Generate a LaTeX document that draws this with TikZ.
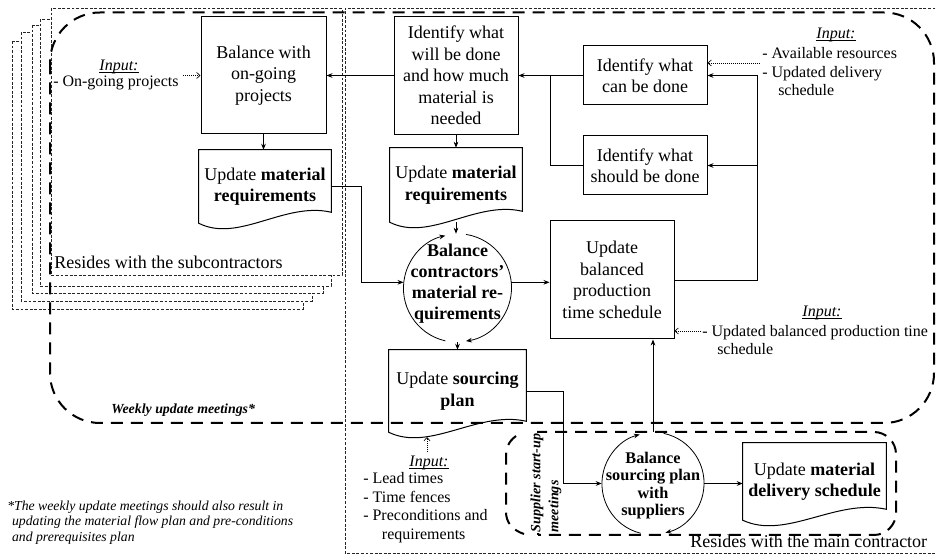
\documentclass[tikz,border=0pt]{standalone}
\usepackage{fontspec}
\setmainfont{Liberation Serif}
\usetikzlibrary{arrows.meta,calc}

% document symbol: flat top, wavy bottom edge
\newcommand{\docoutline}[1]{%
  \draw[docline] (#1.south west) -- (#1.north west) -- (#1.north east)
    -- ($(#1.south east)+(0,-11)$)
    .. controls ($(#1.south west)!0.65!(#1.south east)+(0,-22)$)
    and ($(#1.south west)!0.3!(#1.south east)+(0,20)$) .. (#1.south west) -- cycle;}
% italic label with a rule just under the baseline
\newcommand{\inlabel}[1]{\setbox0\hbox{\itshape #1}\rlap{\rule[-1.6pt]{\wd0}{0.45pt}}\box0}

\tikzset{
  mainfont/.style={font=\fontsize{13.5}{16.1}\selectfont},
  procbox/.style={draw, line width=0.75pt, fill=white, align=center, inner sep=0pt, mainfont},
  doctext/.style={align=center, inner sep=0pt, mainfont},
  docline/.style={line width=0.75pt},
  cyclenode/.style={circle, inner sep=0pt},
  cyclearc/.style={line width=0.6pt, -{Stealth[length=4.5pt,width=3.5pt]}},
  flow/.style={line width=0.6pt, -{Stealth[length=4.5pt,width=3.5pt]}},
  joinline/.style={line width=0.6pt},
  inputarrow/.style={line width=0.5pt, densely dotted, -{Straight Barb[length=2.5pt,width=4.5pt]}},
  inhead/.style={font=\fontsize{12}{13.5}\selectfont, inner sep=0pt},
  inlist/.style={font=\fontsize{12}{13.9}\selectfont, align=left, inner sep=0pt},
  pagesheet/.style={draw=black!85, fill=white, line width=0.5pt, dash pattern=on 2.2pt off 1.2pt},
  regionline/.style={draw=black!85, line width=0.5pt, dash pattern=on 2.2pt off 1.2pt},
  meetingline/.style={line width=1.5pt, dash pattern=on 9pt off 6pt},
}

\begin{document}
\begin{tikzpicture}[x=0.75pt,y=-0.75pt]
\useasboundingbox (0,0) rectangle (936,555);

% stack of subcontractor sheets, back to front
\draw[pagesheet] (12,41) rectangle (303,309);
\draw[pagesheet] (21,32) rectangle (312,301);
\draw[pagesheet] (32,25) rectangle (323,293);
\draw[pagesheet] (40,19) rectangle (331,286);
\draw[pagesheet] (51,8) rectangle (342,275);
% main contractor area
\draw[regionline] (940,8) -- (345,8) -- (345,553) -- (940,553);

% weekly update meetings boundary
\draw[meetingline, rounded corners=37.5pt] (50,12.5) rectangle (934,423);
\node[anchor=west, inner sep=0pt, font=\fontsize{10.4}{12}\selectfont\bfseries\itshape] (wum) at (111,410) {Weekly update meetings*};

% main contractor / supplier boundary
\draw[meetingline] (538,535) -- (538,432) -- (874,432)
  .. controls (886,432) and (896,442) .. (896,454) -- (896,513)
  .. controls (896,525) and (886,535) .. (874,535) -- cycle;
\draw[meetingline] (516,436) .. controls (508,442) and (506,448) .. (506,458) -- (506,512)
  .. controls (506,522) and (512,530) .. (524,534);
\node[rotate=90, fill=white, align=left, inner sep=0.5pt, font=\fontsize{10.6}{13.5}\selectfont\bfseries\itshape] (ssm) at (546,483) {Supplier start-up\\meetings};

% region labels
\node[anchor=west, inner sep=0pt, mainfont] (rsub) at (54,262) {Resides with the subcontractors};
\node[anchor=west, inner sep=0pt, mainfont] (rmain) at (690,541.5) {Resides with the main contractor};

% process boxes
\node[procbox, minimum width=93.75pt, minimum height=87.75pt] (bwp) at (263.5,75.5) {Balance with\\on-going\\projects};
\node[procbox, minimum width=93pt, minimum height=88.5pt] (iwd) at (456,75.5) {Identify what\\will be done\\and how much\\material is\\needed};
\node[procbox, minimum width=93pt, minimum height=44.25pt] (icd) at (645,75.5) {Identify what\\can be done};
\node[procbox, minimum width=93pt, minimum height=44.25pt] (isd) at (645,165.5) {Identify what\\should be done};
\node[procbox, minimum width=93pt, minimum height=88.5pt] (upt) at (612,280) {Update\\balanced\\production\\time schedule};

% document symbols
\node[doctext, minimum width=99pt, minimum height=54.75pt] (umr1) at (265,186.5) {Update \textbf{material}\\\textbf{requirements}};
\docoutline{umr1}
\node[doctext, minimum width=99pt, minimum height=55.5pt] (umr2) at (456,185) {Update \textbf{material}\\\textbf{requirements}};
\docoutline{umr2}
\node[doctext, minimum width=102.75pt, minimum height=61.5pt] (usp) at (457.5,391) {Update \textbf{sourcing}\\\textbf{plan}};
\docoutline{usp}
\node[doctext, minimum width=107.25pt, minimum height=57.75pt] (umd) at (814.5,481.5) {Update \textbf{material}\\\textbf{delivery schedule}};
\docoutline{umd}

% balancing cycles
\node[cyclenode, minimum size=81pt] (bcm) at (457.5,288) {};
\draw[cyclearc] (bcm.81) arc[start angle=81, end angle=-81, radius=40.5pt];
\draw[cyclearc] (bcm.257) arc[start angle=257, end angle=103, radius=40.5pt];
\node[align=center, inner sep=0pt, font=\fontsize{13.5}{15.75}\selectfont\bfseries] (bcmt) at (457.5,283.5) {Balance\\contractors'\\material re-\\quirements};

\node[cyclenode, minimum size=76.5pt] (bsp) at (653,483.5) {};
\draw[cyclearc] (bsp.78) arc[start angle=78, end angle=-76, radius=38.25pt];
\draw[cyclearc] (bsp.256) arc[start angle=256, end angle=105, radius=38.25pt];
\node[align=center, inner sep=0pt, font=\fontsize{12.2}{13.1}\selectfont\bfseries] (bspt) at (653,485.5) {Balance\\sourcing plan\\with\\suppliers};

% flows
\draw[flow] (iwd.west) -- (iwd.west -| bwp.east);
\draw[flow] (bwp.south) -- (bwp.south |- umr1.north);
\draw[flow] (iwd.south) -- (iwd.south |- umr2.north);
\draw[flow] (umr2.south) -- (umr2.south |- bcm.north);
\draw[flow] (umr1.east) -- ++(30,0) |- (bcm.174);
\draw[flow] (bcm.6) -- (bcm.6 -| upt.west);
\draw[flow] (bcm.south) -- (bcm.south |- usp.north);
\draw[flow] (upt.east) -| ($(icd.east)+(50,0)$) -- (icd.east);
\draw[flow] ($(isd.east)+(50,0)$) -- (isd.east);
\draw[flow] (icd.west) -- (icd.west -| iwd.east);
\draw[joinline] (isd.west) -| ($(icd.west)+(-32,0)$);
\draw[flow] (usp.east) -- ++(37,0) |- (bsp.west);
\draw[flow] (bsp.north) -- (bsp.north |- upt.south);
\draw[flow] (bsp.east) -- (bsp.east -| umd.west);

% inputs
\node[inhead] (in1h) at (119,67) {\inlabel{Input:}};
\node[inlist, anchor=west] (in1) at (53,82.5) {- On-going projects};
\coordinate (in1a) at (183,75.5);
\draw[inputarrow] (in1a) -- (bwp.west);

\node[inhead] (in2h) at (836,35) {\inlabel{Input:}};
\node[inlist, anchor=west] (in2) at (762,72) {- Available resources\\- Updated delivery\\\hspace*{12pt}schedule};
\coordinate (in2a) at (760,63);
\draw[inputarrow] (in2a) -- (in2a -| icd.east);

\node[inhead] (in3h) at (822,312.5) {\inlabel{Input:}};
\node[inlist, anchor=west] (in3) at (702,340) {- Updated balanced production tine\\\hspace*{11.25pt}schedule};
\coordinate (in3a) at (701,331);
\draw[inputarrow] (in3a) -- (in3a -| upt.east);

\node[inhead] (in4h) at (429,462.5) {\inlabel{Input:}};
\node[inlist, anchor=west] (in4) at (363,507.5) {- Lead times\\- Time fences\\- Preconditions and\\\hspace*{14pt}requirements};
\coordinate (in4a) at (427,452);
\coordinate (uspw) at (427,437);
\draw[inputarrow] (in4a) -- (uspw);

% footnote
\node[anchor=west, align=left, inner sep=0pt, font=\fontsize{10.3}{11.6}\selectfont\itshape] (fn) at (7,522.5) {*The weekly update meetings should also result in\\\hspace*{3.6pt}updating the material flow plan and pre-conditions\\\hspace*{3.6pt}and prerequisites plan};

\end{tikzpicture}
\end{document}
